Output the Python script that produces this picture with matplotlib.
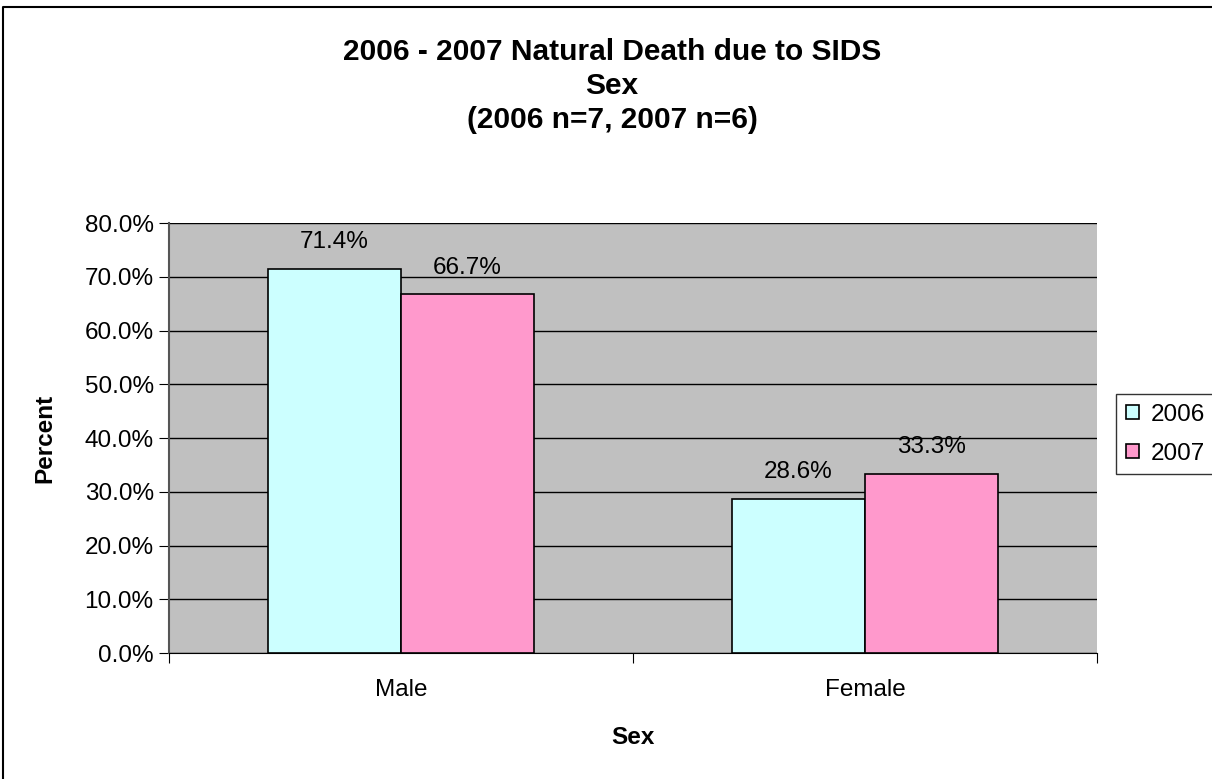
import matplotlib.pyplot as plt
from matplotlib.lines import Line2D
import numpy as np

categories = ['Male', 'Female']
years = ['2006', '2007']
pct_2006 = [71.4, 28.6]
pct_2007 = [66.7, 33.3]
colors = ['#CCFFFF', '#FF99CC']

plt.rcParams['font.family'] = ['Liberation Sans', 'DejaVu Sans']

W, H = 1212, 779
fig = plt.figure(figsize=(W / 100, H / 100), dpi=100)
ax = fig.add_axes([169 / W, 1 - 653 / H, 928 / W, 430 / H])

# outer chart border (only top and left visible in the reference)
fig.lines.append(Line2D([3 / W, 3 / W, 1.0], [0.0, 1 - 7 / H, 1 - 7 / H],
                        transform=fig.transFigure, color='black', linewidth=1.5))

x = np.arange(len(categories))
w = 0.287
series = [pct_2006, pct_2007]
for i, (vals, c, yr) in enumerate(zip(series, colors, years)):
    pos = x + (i - 0.5) * w
    ax.bar(pos, vals, width=w, color=c, edgecolor='black', linewidth=1.2,
           label=yr, zorder=3)
    for p, v in zip(pos, vals):
        ax.text(p, v + 3.9, f'{v:.1f}%', ha='center', va='baseline', fontsize=17.5)

ax.set_facecolor('#C0C0C0')
ax.set_xlim(-0.5, 1.5)
ax.set_ylim(0, 80)
ax.set_yticks(np.arange(0, 81, 10))
ax.set_yticklabels([f'{v:.1f}%' for v in np.arange(0, 81, 10)], fontsize=17.5)
ax.yaxis.grid(True, color='black', linewidth=1.0, zorder=1)
ax.set_axisbelow(True)

ax.set_xticks([-0.5, 0.5, 1.5])
ax.set_xticklabels([])
ax.set_xticks(x, minor=True)
ax.set_xticklabels(categories, minor=True, fontsize=17.5)
ax.tick_params(axis='x', which='minor', length=0, pad=19)
ax.tick_params(axis='x', which='major', length=7, direction='out')
ax.tick_params(axis='y', length=7, direction='out', pad=4)

for s in ['top', 'right']:
    ax.spines[s].set_visible(False)
ax.spines['left'].set_color('#555555')
ax.spines['left'].set_linewidth(1.5)
ax.spines['bottom'].set_color('black')

ax.set_xlabel('Sex', fontsize=17.5, fontweight='bold')
ax.xaxis.label.set_va('center')
ax.xaxis.set_label_coords(0.5, (653 - 737) / 430)
ax.set_ylabel('Percent', fontsize=17.5, fontweight='bold')
ax.yaxis.label.set_va('center')
ax.yaxis.set_label_coords((45 - 169) / 928, 0.5)

title_lines = ['2006 - 2007 Natural Death due to SIDS', 'Sex', '(2006 n=7, 2007 n=6)']
for line, yc in zip(title_lines, [52, 86, 120]):
    fig.text(612 / W, 1 - yc / H, line, ha='center', va='center',
             fontsize=21.5, fontweight='bold')

leg = ax.legend(loc='upper left', bbox_to_anchor=(1116 / W, 1 - 394 / H),
                bbox_transform=fig.transFigure, fontsize=17.5,
                frameon=True, fancybox=False, edgecolor='black', handlelength=0.55,
                handleheight=0.55, handletextpad=0.5, borderpad=0.4, labelspacing=0.7,
                borderaxespad=0)
leg.get_frame().set_linewidth(1.0)

fig.savefig('out.png', dpi=100)
